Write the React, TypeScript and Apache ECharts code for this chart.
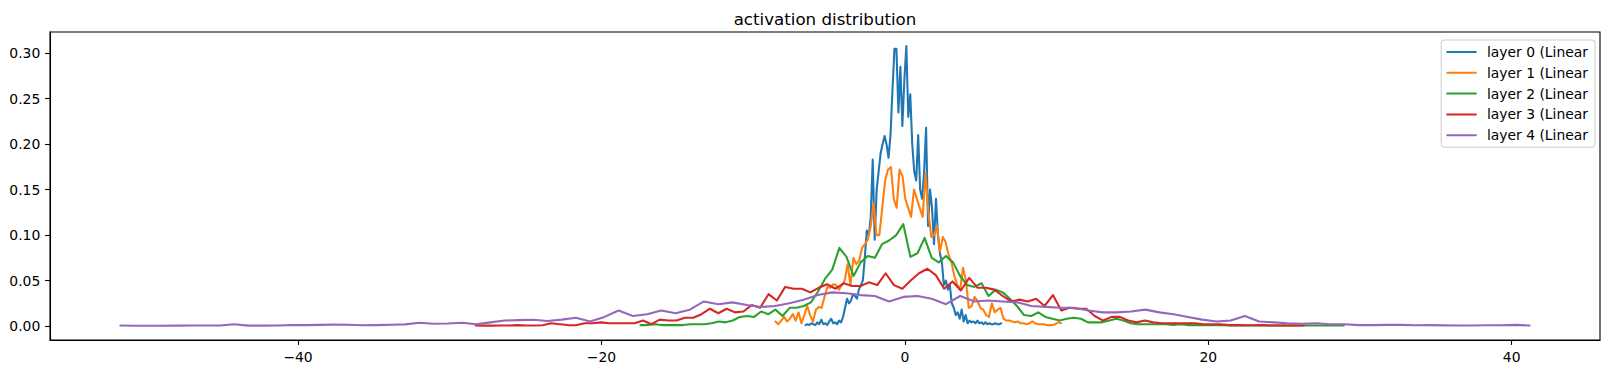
import React, { useEffect, useRef } from "react";
import * as echarts from "echarts";

// ---- data ----
const seriesNames = ["layer 0 (Linear", "layer 1 (Linear", "layer 2 (Linear", "layer 3 (Linear", "layer 4 (Linear"];
const seriesColors = ["#1f77b4", "#ff7f0e", "#2ca02c", "#d62728", "#9467bd"];

// first and last histogram bin position (x) of each layer
const layerXStart = [-6.55, -8.53, -17.43, -28.29, -51.71];
const layerXEnd = [6.35, 10.3, 28.93, 26.3, 41.18];

const layer0 = [
  0.001, 0.002, 0.001, 0.003, 0.002, 0.001, 0.004, 0.002, 0.007, 0.002,
  0.003, 0.001, 0.005, 0.008, 0.003, 0.004, 0.002, 0.006, 0.004, 0.01,
  0.02, 0.03, 0.025, 0.028, 0.035, 0.033, 0.03, 0.04, 0.045, 0.05,
  0.075, 0.105, 0.1, 0.12, 0.183, 0.095, 0.15, 0.17, 0.19, 0.2,
  0.209, 0.2, 0.185, 0.21, 0.26, 0.305, 0.305, 0.235, 0.285, 0.22,
  0.27, 0.308, 0.23, 0.255, 0.2, 0.17, 0.16, 0.21, 0.15, 0.14,
  0.17, 0.218, 0.11, 0.15, 0.13, 0.09, 0.14, 0.1, 0.08, 0.07,
  0.045, 0.05, 0.04, 0.045, 0.025, 0.02, 0.012, 0.015, 0.008, 0.018,
  0.005, 0.012, 0.003, 0.006, 0.004, 0.005, 0.003, 0.006, 0.003, 0.004,
  0.002, 0.004, 0.002, 0.003, 0.002, 0.002, 0.003, 0.002, 0.002, 0.003,
];
const layer1 = [
  0.005, 0.002, 0.006, 0.01, 0.005, 0.008, 0.013, 0.006, 0.015, 0.003,
  0.012, 0.022, 0.012, 0.005, 0.018, 0.021, 0.02, 0.032, 0.043, 0.042,
  0.046, 0.045, 0.04, 0.045, 0.05, 0.068, 0.045, 0.075, 0.068, 0.072,
  0.086, 0.09, 0.095, 0.11, 0.135, 0.1, 0.1, 0.13, 0.16, 0.172,
  0.175, 0.14, 0.13, 0.172, 0.165, 0.14, 0.13, 0.12, 0.15, 0.14,
  0.13, 0.12, 0.168, 0.125, 0.098, 0.1, 0.11, 0.082, 0.098, 0.092,
  0.078, 0.07, 0.055, 0.045, 0.04, 0.064, 0.05, 0.02, 0.022, 0.032,
  0.028, 0.02, 0.018, 0.012, 0.01, 0.025, 0.015, 0.018, 0.02, 0.008,
  0.006, 0.006, 0.005, 0.004, 0.005, 0.003, 0.003, 0.002, 0.003, 0.005,
  0.003, 0.002, 0.002, 0.002, 0.001, 0.001, 0.001, 0.002, 0.004, 0.003,
];
const layer2 = [
  0.001, 0.001, 0.002, 0.001, 0.001, 0.001, 0.001, 0.002, 0.002, 0.002,
  0.003, 0.005, 0.004, 0.006, 0.01, 0.011, 0.01, 0.016, 0.013, 0.018,
  0.011, 0.02, 0.02, 0.022, 0.026, 0.038, 0.052, 0.062, 0.086, 0.076,
  0.055, 0.07, 0.077, 0.075, 0.09, 0.094, 0.1, 0.112, 0.076, 0.08,
  0.097, 0.075, 0.07, 0.077, 0.07, 0.055, 0.045, 0.043, 0.047, 0.033,
  0.04, 0.037, 0.03, 0.022, 0.012, 0.011, 0.015, 0.01, 0.008, 0.006,
  0.008, 0.009, 0.008, 0.004, 0.004, 0.004, 0.006, 0.008, 0.006, 0.003,
  0.002, 0.002, 0.002, 0.002, 0.002, 0.001, 0.002, 0.001, 0.001, 0.001,
  0.001, 0.001, 0.001, 0.0005, 0.001, 0.0005, 0.0005, 0.0005, 0.0005, 0.0005,
  0.0005, 0.0005, 0.0005, 0.0005, 0.0005, 0.0005, 0.0005, 0.0005, 0.0005, 0.0005,
];
const layer3 = [
  0.0005, 0.0004, 0.0004, 0.0005, 0.0006, 0.001, 0.0005, 0.0005, 0.0008, 0.003,
  0.002, 0.001, 0.0008, 0.003, 0.003, 0.004, 0.003, 0.003, 0.003, 0.003,
  0.006, 0.002, 0.007, 0.006, 0.006, 0.009, 0.009, 0.013, 0.019, 0.014,
  0.019, 0.015, 0.016, 0.023, 0.02, 0.035, 0.028, 0.043, 0.041, 0.041,
  0.037, 0.042, 0.046, 0.041, 0.047, 0.044, 0.044, 0.048, 0.045, 0.058,
  0.045, 0.041, 0.05, 0.058, 0.063, 0.056, 0.041, 0.049, 0.039, 0.053,
  0.042, 0.042, 0.04, 0.033, 0.027, 0.029, 0.027, 0.03, 0.022, 0.034,
  0.017, 0.02, 0.019, 0.019, 0.011, 0.006, 0.01, 0.01, 0.006, 0.004,
  0.006, 0.004, 0.003, 0.003, 0.003, 0.003, 0.003, 0.002, 0.002, 0.002,
  0.001, 0.001, 0.0008, 0.0008, 0.001, 0.0006, 0.0006, 0.0005, 0.0006, 0.0005,
];
const layer4 = [
  0.0005, 0.0003, 0.0003, 0.0003, 0.0004, 0.0005, 0.0006, 0.0005, 0.002, 0.0004,
  0.0004, 0.0006, 0.001, 0.001, 0.0012, 0.0015, 0.0014, 0.0008, 0.001, 0.0014,
  0.0018, 0.0035, 0.0025, 0.0028, 0.0035, 0.002, 0.004, 0.006, 0.0065, 0.0068,
  0.0055, 0.007, 0.009, 0.005, 0.01, 0.017, 0.011, 0.013, 0.017, 0.014,
  0.018, 0.027, 0.024, 0.026, 0.023, 0.021, 0.022, 0.025, 0.029, 0.034,
  0.037, 0.036, 0.034, 0.033, 0.027, 0.032, 0.033, 0.03, 0.024, 0.033,
  0.027, 0.028, 0.027, 0.026, 0.022, 0.021, 0.02, 0.02, 0.017, 0.015,
  0.015, 0.016, 0.018, 0.015, 0.013, 0.01, 0.007, 0.005, 0.006, 0.011,
  0.005, 0.004, 0.003, 0.0025, 0.003, 0.002, 0.002, 0.001, 0.001, 0.0012,
  0.0012, 0.0008, 0.001, 0.0007, 0.0006, 0.0006, 0.0008, 0.0008, 0.0012, 0.0005,
];
const layerValues = [layer0, layer1, layer2, layer3, layer4];

const xTicks = [-40, -20, 0, 20, 40];
const yTicks = [0, 0.05, 0.1, 0.15, 0.2, 0.25, 0.3];
const xRange = [-56.35, 45.82];
const yRange = [-0.0154, 0.3234];
const titleText = "activation distribution";

const FONT = "'DejaVu Sans', sans-serif";

function binPoints(k: number): [number, number][] {
  const ys = layerValues[k];
  const x0 = layerXStart[k];
  const x1 = layerXEnd[k];
  const n = ys.length;
  return ys.map((y, i) => [x0 + ((x1 - x0) * i) / (n - 1), y]);
}

export default function App() {
  const ref = useRef<HTMLDivElement>(null);
  useEffect(() => {
    document.body.style.margin = "0";
    const chart = echarts.init(ref.current!, null, { renderer: "svg" });
    const axisCommon = {
      axisLine: { show: true, onZero: false, lineStyle: { color: "#000", width: 1.1 } },
      splitLine: { show: false },
      axisLabel: { color: "#000", fontSize: 13.9, fontFamily: FONT, margin: 9.7 },
    };
    chart.setOption({
      animation: false,
      graphic: [
        {
          type: "text",
          x: 825,
          y: 19.5,
          style: {
            text: titleText,
            fill: "#000",
            font: `16.67px ${FONT}`,
            textAlign: "center",
            textVerticalAlign: "middle",
          },
        },
      ],
      grid: {
        left: 50,
        top: 32,
        width: 1550,
        height: 308,
        show: true,
        borderColor: "#000",
        borderWidth: 1.1,
        backgroundColor: "transparent",
      },
      legend: {
        orient: "vertical",
        right: 15,
        top: 40,
        data: seriesNames,
        itemWidth: 28.7,
        itemHeight: 14,
        itemGap: 6.8,
        padding: [5, 7, 5, 5],
        backgroundColor: "rgba(255,255,255,0.8)",
        borderColor: "#cccccc",
        borderWidth: 1,
        borderRadius: 3,
        itemStyle: { opacity: 0, borderWidth: 0 },
        textStyle: { color: "#000", fontSize: 13.9, fontFamily: FONT, padding: [0, 0, 0, 6] },
      },
      xAxis: {
        type: "value",
        min: xRange[0],
        max: xRange[1],
        ...axisCommon,
        axisTick: { show: true, length: 4.9, customValues: xTicks, lineStyle: { color: "#000", width: 1.1 } },
        axisLabel: {
          ...axisCommon.axisLabel,
          customValues: xTicks,
          formatter: (v: number) => String(v).replace("-", "\u2212"),
        },
      },
      yAxis: {
        type: "value",
        min: yRange[0],
        max: yRange[1],
        ...axisCommon,
        axisTick: { show: true, length: 4.9, customValues: yTicks, lineStyle: { color: "#000", width: 1.1 } },
        axisLabel: {
          ...axisCommon.axisLabel,
          customValues: yTicks,
          formatter: (v: number) => v.toFixed(2),
        },
      },
      series: seriesNames.map((name, k) => ({
        name,
        type: "line",
        symbol: "none",
        showSymbol: false,
        silent: true,
        color: seriesColors[k],
        lineStyle: { color: seriesColors[k], width: 2.08, join: "round", cap: "round" },
        data: binPoints(k),
      })),
    });
    return () => chart.dispose();
  }, []);
  return <div ref={ref} style={{ width: 1610, height: 374 }} />;
}
